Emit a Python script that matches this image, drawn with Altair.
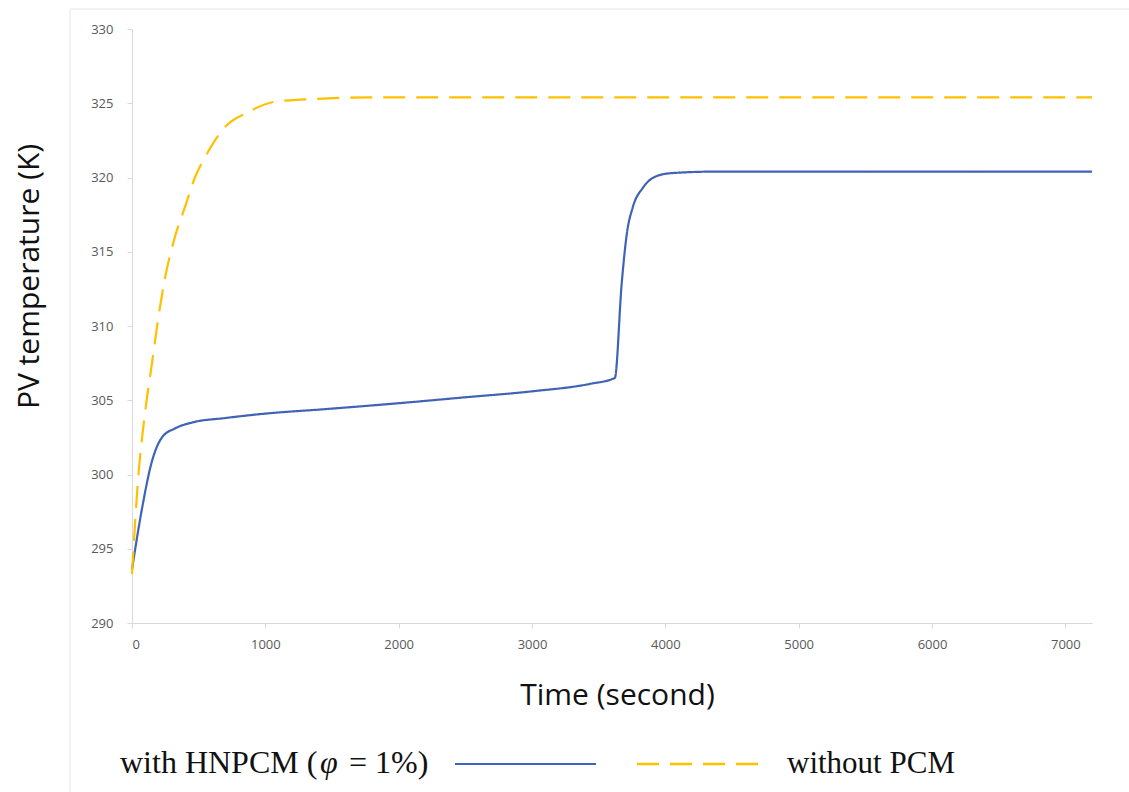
import altair as alt
import pandas as pd

# ---- data ----
time_hnpcm = [0, 75, 150, 225, 322, 450, 697, 1000, 1447, 2000, 2500, 3000, 3433, 3621,
              3673, 3711, 3756, 3831, 3936, 4055, 4400, 7200]
temp_hnpcm = [293.6, 297.7, 300.9, 302.5, 303.1, 303.5, 303.8, 304.1, 304.4, 304.8, 305.2,
              305.6, 306.1, 306.5, 312.9, 316.2, 318.0, 319.3, 320.1, 320.3, 320.4, 320.4]

time_nopcm = [0, 45, 97, 150, 195, 247, 322, 397, 472, 562, 697, 870, 1072, 1394, 1800, 7200]
temp_nopcm = [293.3, 299.6, 304.1, 307.5, 310.4, 313.2, 316.0, 318.0, 320.0, 321.6, 323.4,
              324.4, 325.1, 325.3, 325.4, 325.4]

series_names = ["with HNPCM (φ = 1%)", "without PCM"]
series_colors = ["#3f63b5", "#ffc000"]
x_ticks = [0, 1000, 2000, 3000, 4000, 5000, 6000, 7000]
y_ticks = [290, 295, 300, 305, 310, 315, 320, 325, 330]
legend_parts = ["with HNPCM (", "φ", "= 1%)"]

df = pd.concat([
    pd.DataFrame({"time": time_hnpcm, "temp": temp_hnpcm, "series": series_names[0]}),
    pd.DataFrame({"time": time_nopcm, "temp": temp_nopcm, "series": series_names[1]}),
])

W, H = 960, 594
DASH = [22, 11]

lines = alt.Chart(df).mark_line(strokeWidth=2.2, interpolate="monotone").encode(
    x=alt.X("time:Q",
            scale=alt.Scale(domain=[0, 7200], nice=False),
            axis=alt.Axis(values=x_ticks, title="Time (second)", format="d",
                          titleX=485, titleY=72, titleBaseline="middle", titleAlign="center")),
    y=alt.Y("temp:Q",
            scale=alt.Scale(domain=[290, 330], nice=False, zero=False),
            axis=alt.Axis(values=y_ticks, title="PV temperature (K)", format="d",
                          titleX=-103, titleY=247, titleAngle=270,
                          titleBaseline="middle", titleAlign="center")),
    color=alt.Color("series:N", scale=alt.Scale(domain=series_names, range=series_colors),
                    legend=None),
    strokeDash=alt.StrokeDash("series:N",
                              scale=alt.Scale(domain=series_names, range=[[1, 0], DASH]),
                              legend=None),
    order=alt.Order("time:Q"),
)

one = pd.DataFrame({"k": [0]})

def txt(text, x, size, align="left", italic=False):
    return alt.Chart(one).mark_text(
        font="Liberation Serif", fontSize=size, align=align, baseline="alphabetic",
        color="#111111", fontStyle="italic" if italic else "normal",
    ).encode(x=alt.value(x), y=alt.value(744), text=alt.value(text))

leg_y = 735
legend_layers = [
    txt(legend_parts[0], -12, 32, "left"),
    txt(legend_parts[1], 188, 32, "left", italic=True),
    txt(legend_parts[2], 217, 32, "left"),
    alt.Chart(one).mark_rule(color=series_colors[0], strokeWidth=2.2).encode(
        x=alt.value(323), x2=alt.value(464), y=alt.value(leg_y)),
    alt.Chart(one).mark_rule(color=series_colors[1], strokeWidth=2.4, strokeDash=DASH).encode(
        x=alt.value(505), x2=alt.value(637), y=alt.value(leg_y)),
    txt(series_names[1], 655, 31, "left"),
]

frame = [
    alt.Chart(one).mark_rule(color="#e6e6e6", strokeWidth=1).encode(
        x=alt.value(-62), y=alt.value(-20), y2=alt.value(763)),
    alt.Chart(one).mark_rule(color="#e6e6e6", strokeWidth=1).encode(
        x=alt.value(-62), x2=alt.value(997), y=alt.value(-20)),
]

chart = alt.layer(*frame, lines, *legend_layers).properties(
    width=W, height=H,
    autosize=alt.AutoSizeParams(type="none"),
    padding={"left": 132, "top": 29, "right": 37, "bottom": 169},
    background="white",
).configure_view(stroke=None).configure_axis(
    grid=False,
    domainColor="#d9d9d9",
    domainWidth=1,
    tickColor="#d9d9d9",
    tickSize=5,
    labelColor="#595959",
    labelFont="Open Sans",
    labelFontSize=13,
    titleFont="Open Sans",
    titleFontSize=30,
    titleFontWeight="normal",
    titleColor="#111111",
).configure_axisY(labelPadding=14).configure_axisX(labelPadding=10)

chart.save("out.html", embed_options={"renderer": "svg", "actions": False})
